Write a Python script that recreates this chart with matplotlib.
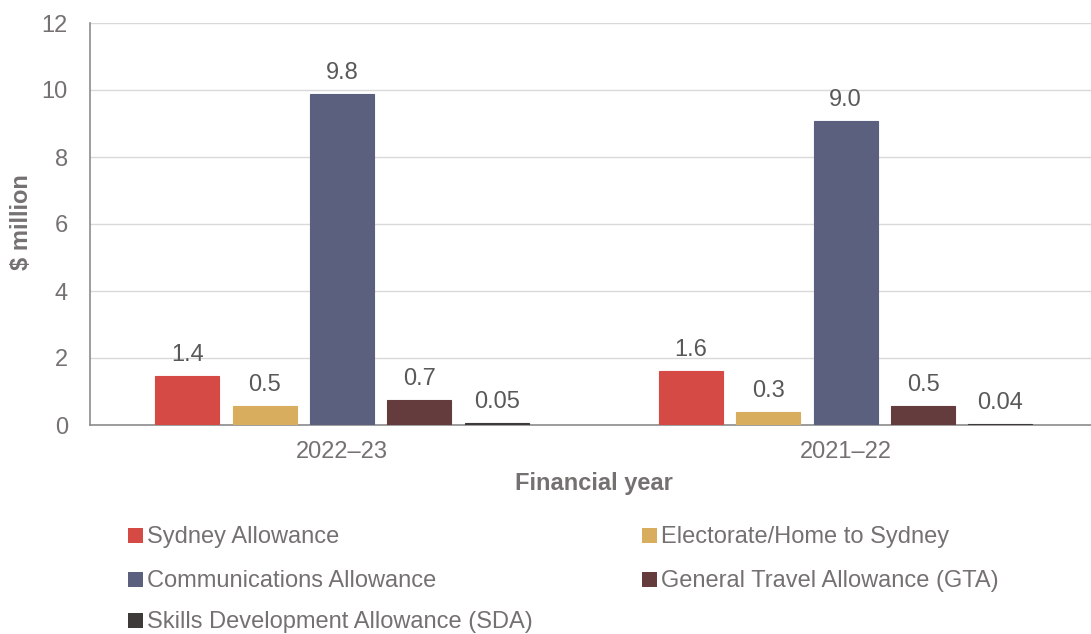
import matplotlib
matplotlib.use("Agg")
import matplotlib.pyplot as plt
from matplotlib.patches import Rectangle
import numpy as np

plt.rcParams['font.family'] = ['Liberation Sans', 'DejaVu Sans']

years = ["2022–23", "2021–22"]
series_names = ["Sydney Allowance", "Electorate/Home to Sydney", "Communications Allowance",
                "General Travel Allowance (GTA)", "Skills Development Allowance (SDA)"]
sydney = [1.47, 1.61]
electorate = [0.58, 0.39]
communications = [9.88, 9.07]
gta = [0.75, 0.58]
sda = [0.05, 0.04]
label_sydney = ["1.4", "1.6"]
label_electorate = ["0.5", "0.3"]
label_communications = ["9.8", "9.0"]
label_gta = ["0.7", "0.5"]
label_sda = ["0.05", "0.04"]
yticks = [0, 2, 4, 6, 8, 10, 12]

series = [sydney, electorate, communications, gta, sda]
labels = [label_sydney, label_electorate, label_communications, label_gta, label_sda]
colors = ["#D64A46", "#D9AD5E", "#5A607D", "#643C3E", "#3E3A3A"]

TXT = "#767171"
W, H = 1091, 634
fig = plt.figure(figsize=(W / 100, H / 100), dpi=100)
ax = fig.add_axes([90 / W, 1 - 425 / H, 1 - 90 / W, (425 - 23) / H])

x = np.arange(len(years))
bw = 0.127
pitch = 0.1536
for i, (vals, labs, c) in enumerate(zip(series, labels, colors)):
    pos = x + (i - 2) * pitch
    bars = ax.bar(pos, vals, width=bw, color=c, edgecolor=c, linewidth=0.8, zorder=3)
    for b, lab in zip(bars, labs):
        ax.annotate(lab, (b.get_x() + b.get_width() / 2, b.get_height()),
                    xytext=(0, 10.8), textcoords="offset points", ha="center", va="baseline",
                    fontsize=17, color="#595959")

ax.set_xlim(-0.5, 1.5 - 6.6 / 503.3)
ax.set_ylim(0, 12)
ax.set_yticks(yticks)
ax.set_xticks(x)
ax.set_xticklabels(years)
ax.tick_params(axis="both", length=0, labelsize=17, colors=TXT)
ax.tick_params(axis="y", pad=16)
ax.tick_params(axis="x", pad=11.2)
ax.yaxis.grid(True, color="#D9D9D9", linewidth=1, zorder=0)
ax.set_axisbelow(True)
for s in ["top", "right"]:
    ax.spines[s].set_visible(False)
ax.spines["left"].set_color("#8C8C8C")
ax.spines["bottom"].set_color("#8C8C8C")
ax.spines["left"].set_linewidth(1.2)
ax.spines["bottom"].set_linewidth(1.2)

ax.set_ylabel("$ million", fontsize=17, fontweight="bold", color=TXT)
ax.yaxis.label.set_va("center")
ax.yaxis.set_label_coords((22 - 90) / 1001, (425 - 222) / 402)
ax.set_xlabel("Financial year", fontsize=17, fontweight="bold", color=TXT)
ax.xaxis.label.set_va("baseline")
ax.xaxis.set_label_coords((594 - 90) / 1001, -(490 - 425) / 402)

# legend (row-wise, two columns)
leg_pos = [(128, 535), (642, 535), (128, 579.5), (642, 579.5), (128, 620.5)]
for (px, py), name, c in zip(leg_pos, series_names, colors):
    fig.patches.append(Rectangle((px / W, 1 - (py + 7.5) / H), 15 / W, 15 / H,
                                 transform=fig.transFigure, facecolor=c, edgecolor="none"))
    fig.text((px + 19) / W, 1 - (py + 7.5) / H, name, fontsize=17, color=TXT,
             va="baseline", ha="left")

fig.savefig("out.png", dpi=100)
